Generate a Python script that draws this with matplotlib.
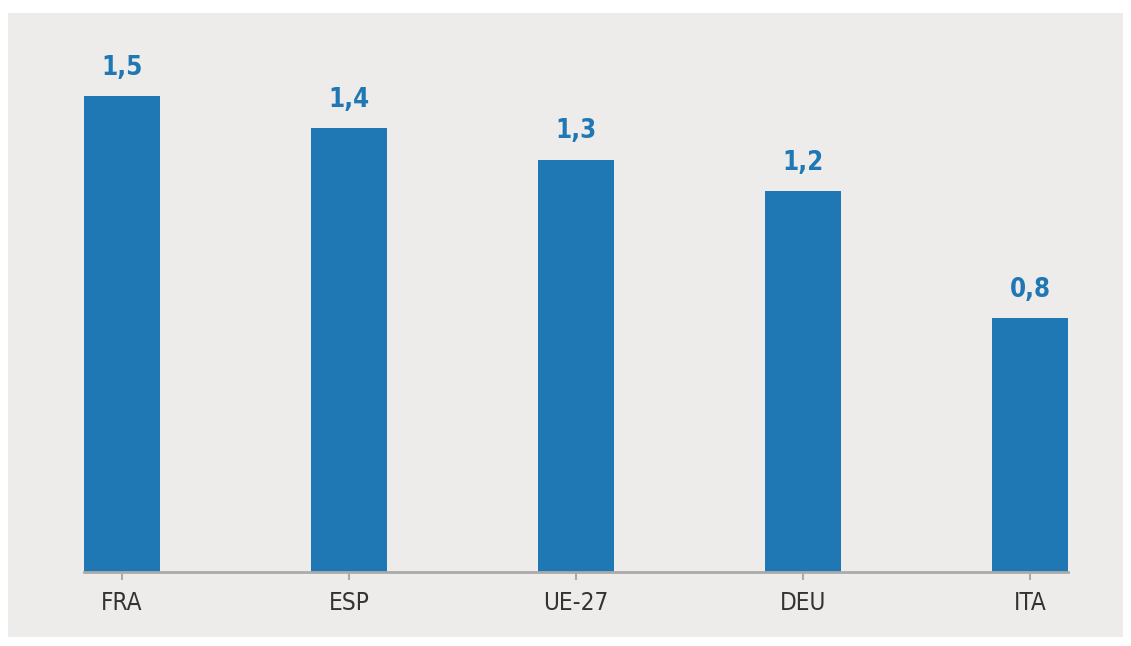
import matplotlib.pyplot as plt
from matplotlib.patches import Rectangle

paises = ["FRA", "ESP", "UE-27", "DEU", "ITA"]
valores = [1.5, 1.4, 1.3, 1.2, 0.8]
etiquetas = ["1,5", "1,4", "1,3", "1,2", "0,8"]

azul = "#1f77b4"
fondo = "#edecea"

fig = plt.figure(figsize=(11.31, 6.46), dpi=100)
fig.patch.set_facecolor("white")
# panel gris de fondo
fig.patches.append(Rectangle((8 / 1131, 1 - 637 / 646), 1115 / 1131, 624 / 646,
                             transform=fig.transFigure, facecolor=fondo,
                             edgecolor="none", zorder=-10))

ax = fig.add_axes([84 / 1131, 74 / 646, 984 / 1131, (572 - 32.6) / 646])
ax.set_facecolor("none")
ax.set_zorder(5)

ancho = 0.335
x = range(len(paises))
ax.bar(x, valores, width=ancho, color=azul, zorder=2)
ax.set_xlim(-ancho / 2, len(paises) - 1 + ancho / 2)
ax.set_ylim(0, 1.7)

for i, (v, t) in enumerate(zip(valores, etiquetas)):
    ax.annotate(t, (i, v), xytext=(0, 11), textcoords="offset points",
                ha="center", va="bottom", color=azul, fontsize=18.5,
                fontweight="bold", fontstretch="condensed",
                family="DejaVu Sans")

for s in ["top", "right", "left"]:
    ax.spines[s].set_visible(False)
ax.spines["bottom"].set_color("#aaaaaa")
ax.spines["bottom"].set_linewidth(2)
ax.set_yticks([])
ax.set_xticks(list(x))
ax.set_xticklabels(paises, fontsize=17.5, color="#333333",
                   fontstretch="condensed", family="DejaVu Sans")
ax.tick_params(axis="x", length=6, width=1.5, color="#aaaaaa", pad=8)

fig.savefig("out.png", dpi=100, facecolor=fig.get_facecolor())
